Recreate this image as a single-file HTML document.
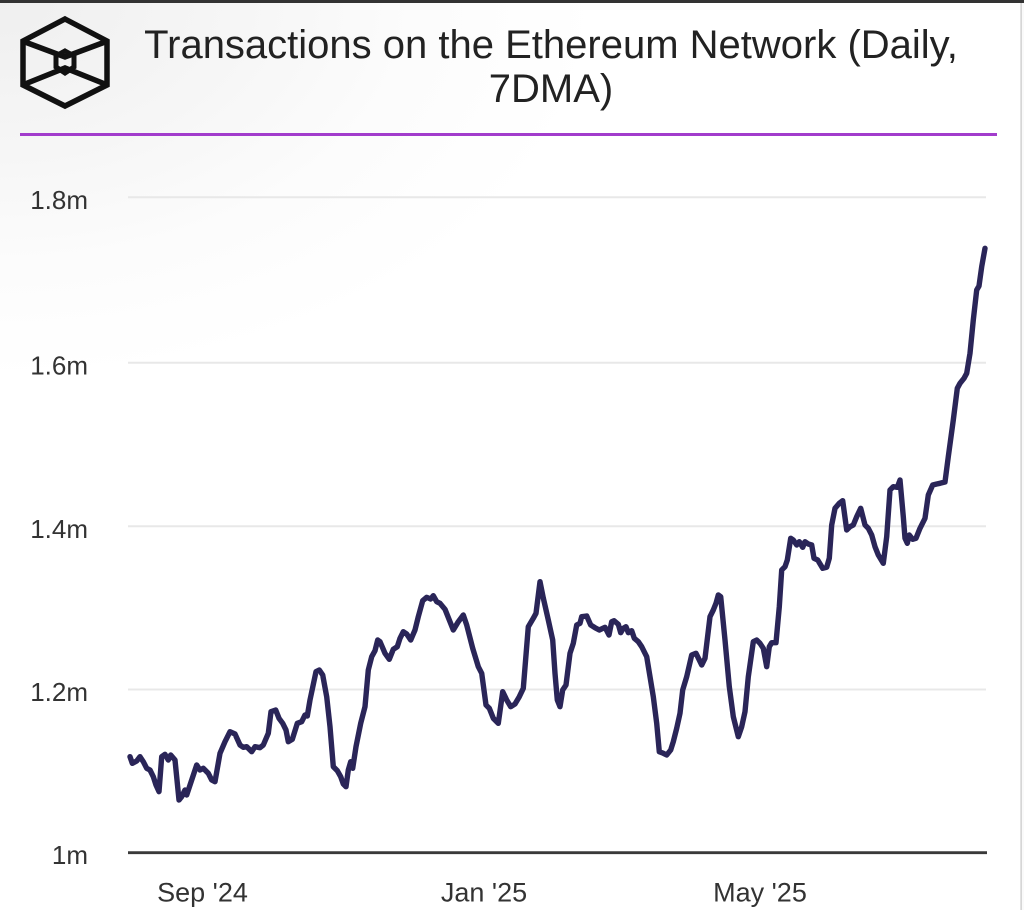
<!DOCTYPE html>
<html>
<head>
<meta charset="utf-8">
<style>
  html, body { margin:0; padding:0; }
  body {
    width:1024px; height:910px; overflow:hidden; position:relative;
    background:#ffffff;
    font-family:"Liberation Sans", "DejaVu Sans", sans-serif;
  }
  .bg {
    position:absolute; left:0; top:0; width:1024px; height:910px;
    background: radial-gradient(ellipse 600px 380px at 0px 0px, #efefef 0%, #f6f6f6 40%, #fcfcfc 70%, #ffffff 100%);
  }
  svg { position:absolute; left:0; top:0; }
</style>
</head>
<body>
<div class="bg"></div>
<svg width="1024" height="910" viewBox="0 0 1024 910" xmlns="http://www.w3.org/2000/svg">
  <!-- top dark strip and right edge -->
  <rect x="0" y="0" width="1024" height="3" fill="#333333"/>
  <rect x="1020.5" y="3" width="1.2" height="907" fill="#c4c4c4"/>
  <rect x="1022" y="3" width="2" height="907" fill="#fafafa"/>

  <!-- logo -->
  <g fill="none" stroke="#111" stroke-width="5.5" stroke-linejoin="miter">
    <polygon points="65,19 107,41 107,85 65,106 23,85 23,41"/>
    <polyline points="25,42 65,57 105,42"/>
    <polyline points="25,84 65,68 105,84"/>
    <polygon points="65,51 74,56 74,67 65,73 56,67 56,56" stroke-width="5"/>
  </g>

  <!-- title -->
  <text x="551" y="58" text-anchor="middle" font-family="Liberation Sans, sans-serif" font-size="40" fill="#222">Transactions on the Ethereum Network (Daily,</text>
  <text x="551" y="102" text-anchor="middle" font-family="Liberation Sans, sans-serif" font-size="40" fill="#222">7DMA)</text>

  <!-- purple divider -->
  <rect x="20" y="133" width="977" height="3" fill="#a23ccc"/>

  <!-- gridlines -->
  <g stroke="#e8e8e8" stroke-width="2">
    <line x1="128" y1="197.3" x2="986" y2="197.3"/>
    <line x1="128" y1="362.8" x2="986" y2="362.8"/>
    <line x1="128" y1="526.2" x2="986" y2="526.2"/>
    <line x1="128" y1="689.5" x2="986" y2="689.5"/>
  </g>
  <line x1="128" y1="852.7" x2="987" y2="852.7" stroke="#3a3a3a" stroke-width="2.8"/>

  <!-- y labels -->
  <g font-family="Liberation Sans, sans-serif" font-size="26" fill="#333" text-anchor="end">
    <text x="88" y="209">1.8m</text>
    <text x="88" y="374.5">1.6m</text>
    <text x="88" y="538">1.4m</text>
    <text x="88" y="701">1.2m</text>
    <text x="88" y="864">1m</text>
  </g>

  <!-- x labels -->
  <g font-family="Liberation Sans, sans-serif" font-size="27" fill="#333" text-anchor="middle">
    <text x="202.5" y="901.5">Sep '24</text>
    <text x="484" y="901.5">Jan '25</text>
    <text x="760" y="901.5">May '25</text>
  </g>

  <!-- series -->
  <polyline fill="none" stroke="#2a2558" stroke-width="5.4" stroke-linejoin="round" stroke-linecap="round"
    points="130,756.7 132.3,763.3 136.7,761 140,756.7 143.3,761.7 146.7,768.3 150,770 153.3,776.7 156,785 159,791.7 161.7,756.7 165,754.3 168.3,760 170.7,755 175,760 179,800 181.7,796.7 185,790 186.7,795 191.7,780 196.7,765 200,770 203.3,768.3 208.3,773.3 211.7,780 215,781.7 220,753.3 225,741.7 230,731.7 235,734 240,745 243.3,747.3 246.7,746.7 251.7,751.7 255,746.7 260,747.7 263.3,745 268.3,733.3 271,711.7 275.7,710 279,718.3 282.7,723.3 286,730 288.3,741.7 292.3,739.3 297.3,723.3 301.7,721.7 305,715 307.3,716 310,700 316,671.7 319.3,670 322.7,675 326.7,696.7 330,726.7 333.3,766.7 337.3,770.7 340.7,776.7 343.3,784 346,786.7 348.3,770 350.7,761.7 352.7,768.3 356,746.7 360.7,723.3 365,706.7 368.3,670 371.7,656.7 375,650.7 377.7,640 380,641.7 385,653.3 389.3,659.3 393.3,649.3 397.3,646.7 400,638.3 403.3,631.7 406.7,634 410.7,640 415,630 418.3,616.7 422.7,600.7 426.7,597.3 430.7,599 433.3,595.7 436.7,601.7 440,603.3 445,609.3 449.3,620 453.3,630 458.3,621.7 463.3,615 466.7,625 472.7,648.3 478.3,666.7 481.7,673.3 486,705 489.3,708.3 493.3,718.3 498.3,723.3 502.7,691.7 506.7,700 510.7,706.7 515,704 519.3,696.7 523.3,688.3 528.3,626.7 533.3,618.3 536,613.3 540,581.7 543.3,598 548.3,620 552.7,640 555,673.3 557.3,700 560,706.7 562.7,690 566,685 570,653.3 573.3,643.3 576.7,625 580,623.3 581.7,616.7 586.7,616 590.7,625 595,627.7 599.3,630 605,627.3 609,635 611.7,621.7 614,620.7 618.3,624.3 620.7,632.7 623.3,628.3 626,626.7 628.3,632.7 631.7,630.7 634.3,638.3 638.3,641.7 641.7,646.7 646.7,656.7 650,676.7 653.3,696.7 656.7,723.3 659.3,751.7 663.3,753.3 666.7,755 670.7,750 673.3,741.7 676.7,728.3 680,713.3 682.7,690 686.7,676.7 691.7,655 696,653.3 699.3,660 701.7,665 705,658.3 710,616.7 713.3,610 716,603.3 718.3,595 720.7,596.7 725,640 729.3,686.7 733.3,716.7 738.3,736.7 741.7,726.7 745,711.7 748.3,676.7 753.3,641.7 756.7,640 760,643.3 763.3,648.3 766.7,666.7 769.3,646.7 771.7,642.7 776,642.7 779.3,606.7 781.7,570 785,566.7 787.3,560 790.7,538.3 793.3,540 796.7,545 799.3,541.7 802.7,547.3 805,541.7 808.3,544 811.7,545 814,558.3 817.7,560 822.7,568.3 826.7,567.3 829.3,558.3 831.7,525 835,508.3 839.3,503.3 842.7,500.7 846.7,530 850,526.7 853.3,525 856.7,516.7 860.7,508.3 865,525 868.3,528.3 871.7,535 875,546.7 878.3,555 883.3,563.3 886.7,536.7 890,490 893.3,486.7 897.3,487.3 900,480 903.3,516.7 905,538.3 907.3,543.3 909.3,535 912.7,539.3 916,538.3 920,528.3 925,518.3 928.3,495 932.7,485 936.7,484 940,483.3 945,482 948.3,456.7 953.3,420 957.3,388.3 960,383.3 964,378.3 966.7,373.3 970,353.3 973.3,320 976.7,290 979,286 981.7,266.7 985,248.3"/>
</svg>
</body>
</html>
